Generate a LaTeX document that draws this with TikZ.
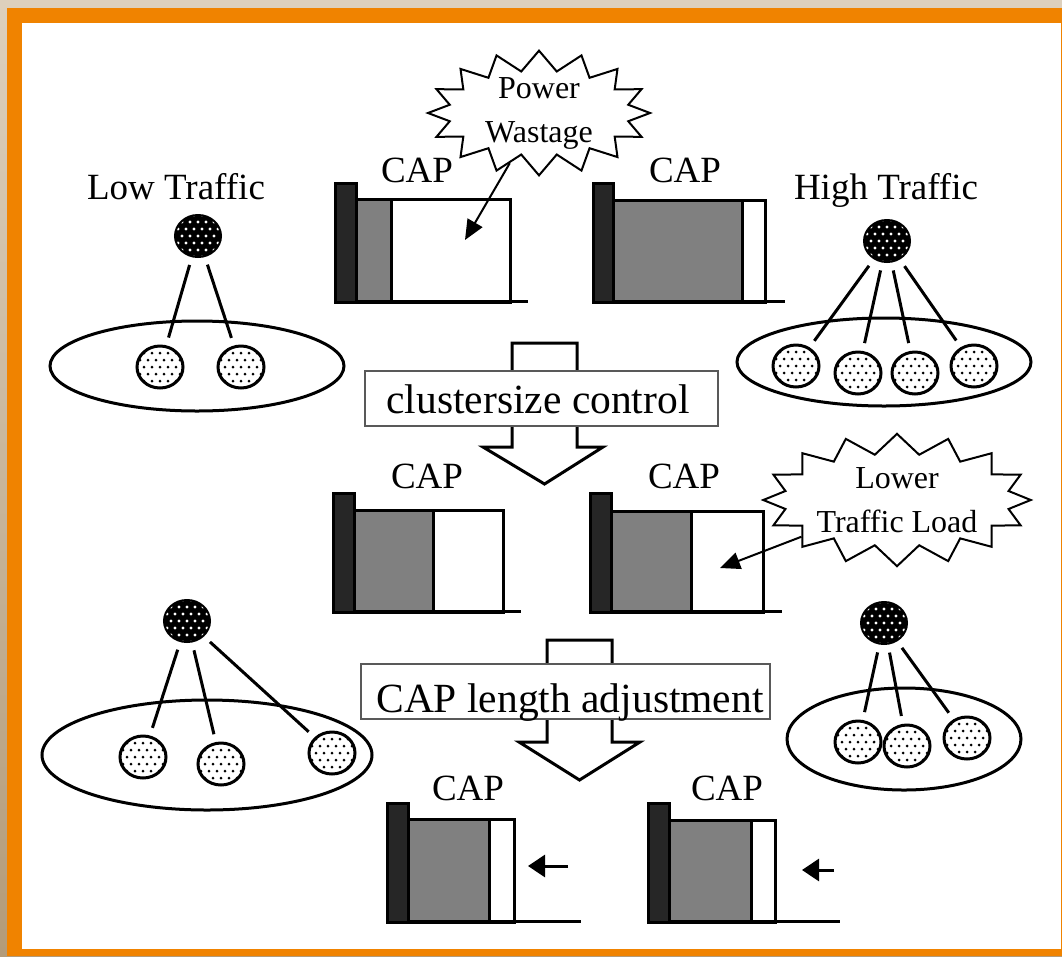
\documentclass[tikz,border=0pt]{standalone}
\usepackage{fontspec}
\setmainfont{Liberation Serif}
\usetikzlibrary{arrows.meta,shapes.geometric,shapes.symbols}
\definecolor{framec}{HTML}{F08300}
\definecolor{sandtop}{HTML}{DDD0BD}
\definecolor{sandbot}{HTML}{B39B79}
\definecolor{usedc}{HTML}{808080}
\definecolor{barc}{HTML}{262626}
\newcommand{\labelfont}{\fontsize{37}{40}\selectfont}
\newcommand{\burstfont}{\fontsize{32}{44}\selectfont}
\newcommand{\stepfont}{\fontsize{41.5}{44}\selectfont}

\begin{document}
\begin{tikzpicture}[>={Triangle[length=20pt,width=17pt]},x=1pt,y=-1pt,
    bar/.style={fill=barc,draw=black,line width=3pt},
    used/.style={fill=usedc,draw=black,line width=3pt},
    idle/.style={fill=white,draw=black,line width=3pt},
    slotline/.style={draw=black,line width=3pt},
    caplbl/.style={anchor=base,font=\labelfont},
    pool/.style={draw=black,line width=3pt},
    head/.style={ellipse,minimum width=46pt,minimum height=42pt,inner sep=0pt,
      fill=black,draw=black,line width=2pt,
      path picture={\foreach \i in {-3,...,3} \foreach \j in {-3,...,3}
        \fill[white] ([shift={({\i*8+mod(\j,2)*4},{\j*7})}]path picture bounding box.center) circle (1.6);}},
    member/.style={ellipse,minimum width=46pt,minimum height=42pt,inner sep=0pt,
      fill=white,draw=black,line width=3pt,
      path picture={\foreach \i in {-3,...,3} \foreach \j in {-3,...,3}
        \fill[black] ([shift={({\i*8+mod(\j,2)*4},{\j*7})}]path picture bounding box.center) circle (1.5);}},
    link/.style={line width=3pt,shorten <=8pt,shorten >=8pt},
    burst/.style={starburst,starburst points=16,starburst point height=20pt,
      random starburst=0,draw=black,line width=2pt,fill=white,align=center,
      font=\burstfont,inner xsep=0pt},
    callout/.style={->,line width=2pt},
    blockarrow/.style={fill=white,draw=black,line width=3pt,line join=miter},
    stepbox/.style={draw=black!65,fill=white,line width=1.5pt,minimum height=55pt,inner sep=0pt},
    shrink/.style={-{Triangle[length=17pt,width=22pt]},line width=3pt}]
  \useasboundingbox (0,0) rectangle (1062,956);
  % frame
  \shade[top color=sandtop,bottom color=sandbot] (0,0) rectangle (1062,956);
  \fill[framec] (7,8) rectangle (1062,956);
  \fill[white] (22,23) rectangle (1061,949);

  % low traffic cluster
  \node[caplbl] (lowlbl) at (176,199) {Low Traffic};
  \draw[pool] (197,366) ellipse [x radius=147,y radius=45];
  \node[head] (lh) at (198,236) {};
  \node[member] (lm1) at (160,367) {};
  \node[member] (lm2) at (241,367) {};
  \draw[link] (lh) -- (lm1);
  \draw[link] (lh) -- (lm2);

  % high traffic cluster
  \node[caplbl] (highlbl) at (886,199) {High Traffic};
  \draw[pool] (884,362) ellipse [x radius=147,y radius=44];
  \node[head] (hh) at (887,241) {};
  \node[member] (hm1) at (796,366) {};
  \node[member] (hm2) at (858,373) {};
  \node[member] (hm3) at (915,373) {};
  \node[member] (hm4) at (974,366) {};
  \draw[link] (hh) -- (hm1);
  \draw[link] (hh) -- (hm2);
  \draw[link] (hh) -- (hm3);
  \draw[link] (hh) -- (hm4);

  % bottom left cluster
  \draw[pool] (207,755) ellipse [x radius=165,y radius=55];
  \node[head] (bh) at (187,621) {};
  \node[member] (bm1) at (143,757) {};
  \node[member] (bm2) at (221,764) {};
  \node[member] (bm3) at (332,753) {};
  \draw[link] (bh) -- (bm1);
  \draw[link] (bh) -- (bm2);
  \draw[link] (bh) -- (bm3);

  % bottom right cluster
  \draw[pool] (904,739) ellipse [x radius=117,y radius=51];
  \node[head] (rh) at (884,623) {};
  \node[member] (rm1) at (858,742) {};
  \node[member] (rm2) at (907,746) {};
  \node[member] (rm3) at (967,738) {};
  \draw[link] (rh) -- (rm1);
  \draw[link] (rh) -- (rm2);
  \draw[link] (rh) -- (rm3);

  % step arrows
  \draw[blockarrow] (512,343) -- (577,343) -- (577,447) -- (603,447) -- (544.5,484) -- (483,447) -- (512,447) -- cycle;
  \node[stepbox,minimum width=353pt] (csc) at (541.5,398.5) {};
  \node[anchor=base,font=\stepfont] (csctext) at (538,413) {clustersize control};
  \draw[blockarrow] (547,640) -- (612,640) -- (612,742) -- (640,742) -- (579.5,780) -- (519,742) -- (547,742) -- cycle;
  \node[stepbox,minimum width=409pt] (cla) at (565.5,691.5) {};
  \node[anchor=base,font=\stepfont] (clatext) at (570,712) {CAP length adjustment};

  % CAP slots, top row
  \node[caplbl] (cap1) at (417,182) {CAP};
  \filldraw[bar] (335,183) rectangle (356,302);
  \filldraw[used] (356,199) rectangle (391,302);
  \filldraw[idle] (391,199) rectangle (510,302);
  \draw[slotline] (356,301) -- (528,301);
  \node[caplbl] (cap2) at (685,182) {CAP};
  \filldraw[bar] (593,183) rectangle (613,302);
  \filldraw[used] (613,200) rectangle (742,302);
  \filldraw[idle] (742,200) rectangle (765,302);
  \draw[slotline] (613,301) -- (785,301);

  % CAP slots, middle row
  \node[caplbl] (cap3) at (427,488) {CAP};
  \filldraw[bar] (333,493) rectangle (354,612);
  \filldraw[used] (354,510) rectangle (433,612);
  \filldraw[idle] (433,510) rectangle (503,612);
  \draw[slotline] (354,611) -- (521,611);
  \node[caplbl] (cap4) at (684,488) {CAP};
  \filldraw[bar] (590,493) rectangle (611,612);
  \filldraw[used] (611,511) rectangle (691,612);
  \filldraw[idle] (691,511) rectangle (763,612);
  \draw[slotline] (611,611) -- (782,611);

  % CAP slots, bottom row
  \node[caplbl] (cap5) at (468,800) {CAP};
  \filldraw[bar] (387,803) rectangle (408,922);
  \filldraw[used] (408,819) rectangle (489,922);
  \filldraw[idle] (489,819) rectangle (514,922);
  \draw[slotline] (408,921) -- (581,921);
  \node[caplbl] (cap6) at (727,800) {CAP};
  \filldraw[bar] (648,803) rectangle (669,922);
  \filldraw[used] (669,820) rectangle (751,922);
  \filldraw[idle] (751,820) rectangle (775,922);
  \draw[slotline] (669,921) -- (840,921);
  \coordinate (s1) at (568,866);
  \coordinate (s1tip) at (528,866);
  \draw[shrink] (s1) -- (s1tip);
  \coordinate (s2) at (834,870);
  \coordinate (s2tip) at (802,870);
  \draw[shrink] (s2) -- (s2tip);

  % call-outs
  \node[burst,inner ysep=-6pt,minimum width=222pt] (pw) at (539,113) {Power\\Wastage};
  \coordinate (pwtip) at (465,240);
  \draw[callout] (pw) -- (pwtip);
  \node[burst,inner ysep=0pt,minimum width=260pt] (ltl) at (897,500) {Lower\\Traffic Load};
  \coordinate (ltltip) at (720,568);
  \draw[callout] (ltl) -- (ltltip);
\end{tikzpicture}
\end{document}
